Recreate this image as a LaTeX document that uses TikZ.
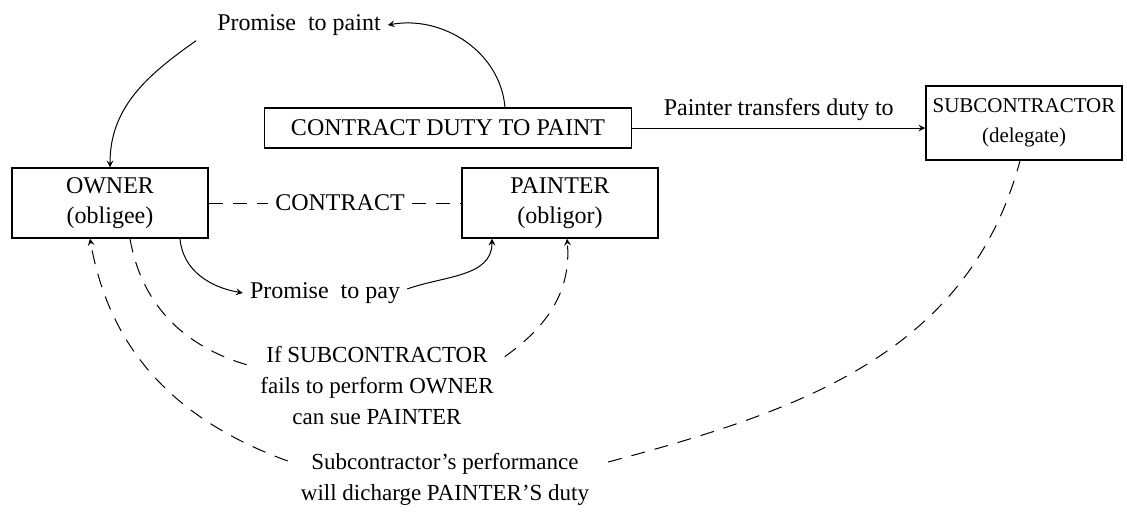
\documentclass[tikz,border=0pt]{standalone}
\usepackage{fontspec}
\setmainfont{Liberation Serif}
\usetikzlibrary{arrows}

\begin{document}
\begin{tikzpicture}[x=0.5pt,y=-0.5pt,line width=0.5pt,>=stealth]
\tikzstyle{sq1}=[rectangle,draw=black,line width=0.7pt,align=center,font=\fontsize{12}{15}\selectfont]
\tikzstyle{sqw}=[sq1,minimum width=98pt,minimum height=35pt]
\tikzstyle{txtonly}=[rectangle,align=center,font=\fontsize{12}{15}\selectfont]
\tikzstyle{txtsm}=[txtonly,font=\fontsize{11.5}{15.5}\selectfont]
\tikzstyle{dsh}=[dash pattern=on 7pt off 5pt]
\useasboundingbox (0,0) rectangle (1127,527);
\node (duty) [sq1,minimum width=183.5pt,minimum height=20pt] at (448,128) {CONTRACT DUTY TO PAINT};
\node (own) [sqw] at (110,203) {OWNER\\(obligee)};
\node (pnt) [sqw] at (560,203) {PAINTER\\(obligor)};
\node (sub) [sq1,minimum width=96pt,minimum height=37pt,font=\fontsize{10.5}{15}\selectfont] at (1024,123) {SUBCONTRACTOR\\(delegate)};
\node (ctr) [txtonly] at (340,203) {CONTRACT};
\node (ptp) [txtonly] at (299,25) {Promise~ to paint};
\node (ppay) [txtonly] at (325,293) {Promise~ to pay};
\node (sue) [txtsm] at (377,385) {If SUBCONTRACTOR\\fails to perform OWNER\\can sue PAINTER};
\node (perf) [txtsm] at (445,479) {Subcontractor's performance\\will dicharge PAINTER'S duty};
% promises
\draw[->] ([xshift=28.5pt]duty.north) to[out=95,in=10] (ptp.east);
\draw[->] ([xshift=-7pt,yshift=1pt]ptp.south west) to[out=215,in=90] (own.north);
\draw[->] ([xshift=35pt]own.south) to[out=-85,in=170] (ppay.west);
\draw[->] ([yshift=2pt]ppay.east) to[out=20,in=-90] ([xshift=-34pt]pnt.south);
% delegation
\draw[->] (duty.east) -- node[above,txtonly] {Painter transfers duty to} (duty.east -| sub.west);
% contract
\draw[dsh] (own.east) -- (ctr.west);
\draw[dsh] (ctr.east) -- (pnt.west);
% liability
\draw[dsh] ([xshift=10pt]own.south) to[out=-80,in=165] ([yshift=-14pt]sue.north west);
\draw[dsh,->] ([xshift=2pt,yshift=-9pt]sue.north east) to[out=35,in=-85] ([xshift=3.5pt]pnt.south);
\draw[dsh,->] ([xshift=-3pt,yshift=9pt]perf.west) to[out=160,in=-80] ([xshift=-10pt]own.south);
\draw[dsh] ([xshift=6pt,yshift=8.5pt]perf.east) to[out=15,in=-105] ([xshift=-2pt]sub.south);
\end{tikzpicture}
\end{document}
